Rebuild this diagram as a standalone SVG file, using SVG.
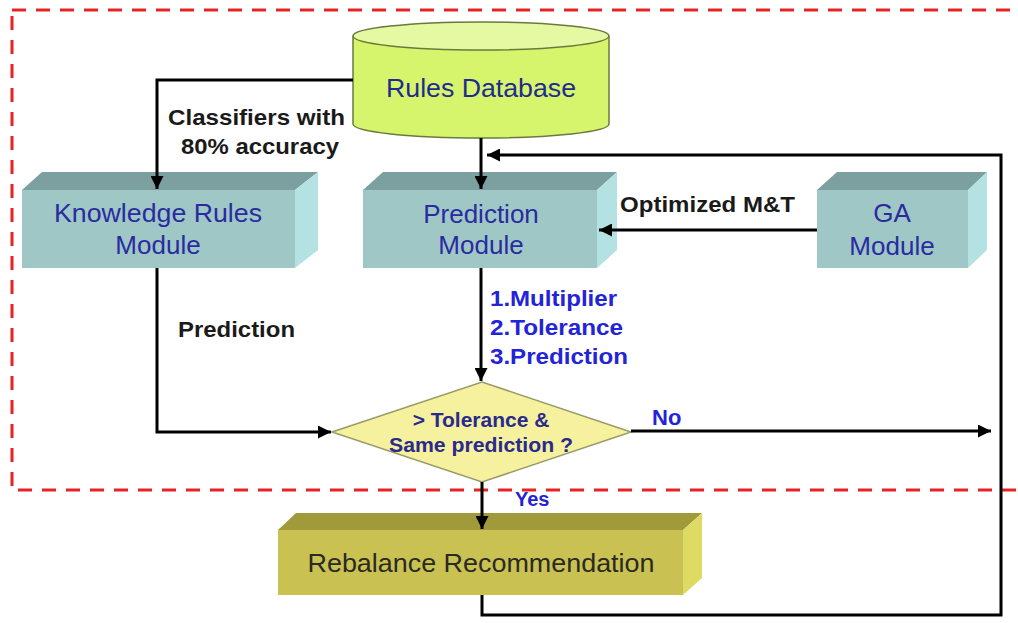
<svg xmlns="http://www.w3.org/2000/svg" width="1018" height="623" viewBox="0 0 1018 623">
<defs>
<marker id="ah" viewBox="0 0 12 12" refX="12" refY="6" markerWidth="13" markerHeight="13" orient="auto" markerUnits="userSpaceOnUse"><path d="M0,0 L12,6 L0,12 z" fill="#000"/></marker>
<style>
.front{fill:#9ec7c6;}
.top{fill:#7c9f9f;}
.side{fill:#b4e2e2;}
.yfront{fill:#c9c152;}
.ytop{fill:#a09a3a;}
.yside{fill:#dedb62;}
.box{font-family:"Liberation Sans",Arial,sans-serif;font-size:26px;fill:#2b2ba0;text-anchor:middle;}
.lbl{font-family:"Liberation Sans",Arial,sans-serif;font-size:22px;font-weight:bold;fill:#1a1a1a;}
.blue{font-family:"Liberation Sans",Arial,sans-serif;font-size:22px;font-weight:bold;fill:#2323d8;}
.dia{font-family:"Liberation Sans",Arial,sans-serif;font-size:21px;font-weight:bold;fill:#2a2a8c;text-anchor:middle;}
.conn{fill:none;stroke:#000;stroke-width:3;}
</style>
</defs>
<rect x="0" y="0" width="1018" height="623" fill="#fff"/>
<rect id="frame" x="12" y="10" width="1030" height="480" fill="none" stroke="#e82222" stroke-width="3" stroke-dasharray="14 10"/>

<g id="rules-db">
<path d="M353,36 V124 A128,14 0 0 0 609,124 V36" fill="#d6f56c" stroke="#6b7a3c" stroke-width="1.5"/>
<ellipse cx="481" cy="36" rx="128" ry="14" fill="#e4f9a2" stroke="#6b7a3c" stroke-width="1.5"/>
<text x="481" y="97" class="box" style="fill:#1f2b8e" textLength="190" lengthAdjust="spacingAndGlyphs">Rules Database</text>
</g>

<g id="knowledge">
<polygon class="top" points="22,190 42,172 318,172 295,190"/>
<polygon class="side" points="295,190 318,172 318,250 295,268"/>
<rect class="front" x="22" y="190" width="273" height="78"/>
<text x="158" y="222" class="box" textLength="208" lengthAdjust="spacingAndGlyphs">Knowledge Rules</text>
<text x="158" y="254" class="box">Module</text>
</g>

<g id="prediction">
<polygon class="top" points="363,190 383,172 617,172 597,190"/>
<polygon class="side" points="597,190 617,172 617,250 597,268"/>
<rect class="front" x="363" y="190" width="234" height="78"/>
<text x="481" y="223" class="box">Prediction</text>
<text x="481" y="254" class="box">Module</text>
</g>

<g id="ga">
<polygon class="top" points="817,190 837,172 987,172 968,190"/>
<polygon class="side" points="968,190 987,172 987,250 968,268"/>
<rect class="front" x="817" y="190" width="151" height="78"/>
<text x="892" y="222" class="box">GA</text>
<text x="892" y="255" class="box">Module</text>
</g>

<g id="decision">
<polygon points="332,432 482,382 631,432 482,482" fill="#f6f19e" stroke="#9a9a66" stroke-width="1.5"/>
<text x="481" y="427" class="dia">&gt; Tolerance &amp;</text>
<text x="481" y="452" class="dia" textLength="184" lengthAdjust="spacingAndGlyphs">Same prediction ?</text>
</g>

<g id="rebalance">
<polygon class="ytop" points="278,530 296,513 702,513 683,530"/>
<polygon class="yside" points="683,530 702,513 702,578 683,595"/>
<rect class="yfront" x="278" y="530" width="405" height="65"/>
<text x="481" y="572" class="box" style="fill:#2a2a22" textLength="347" lengthAdjust="spacingAndGlyphs">Rebalance Recommendation</text>
</g>

<g id="connectors">
<path class="conn" d="M353,80 H157 V189" marker-end="url(#ah)"/>
<path class="conn" d="M481,138 V189" marker-end="url(#ah)"/>
<path class="conn" d="M482,595 V615 H1001 V155 H487" marker-end="url(#ah)"/>
<path class="conn" d="M817,230 H599" marker-end="url(#ah)"/>
<path class="conn" d="M157,268 V432 H331" marker-end="url(#ah)"/>
<path class="conn" d="M481,268 V381" marker-end="url(#ah)"/>
<path class="conn" d="M631,431 H991" marker-end="url(#ah)"/>
<path class="conn" d="M482,482 V529" marker-end="url(#ah)"/>
</g>

<g id="labels">
<text x="168" y="125" class="lbl" textLength="177" lengthAdjust="spacingAndGlyphs">Classifiers with</text>
<text x="181" y="154" class="lbl" textLength="158" lengthAdjust="spacingAndGlyphs">80% accuracy</text>
<text x="178" y="337" class="lbl" textLength="117" lengthAdjust="spacingAndGlyphs">Prediction</text>
<text x="620" y="212" class="lbl" textLength="175" lengthAdjust="spacingAndGlyphs">Optimized M&amp;T</text>
<text x="490" y="306" class="blue" textLength="127" lengthAdjust="spacingAndGlyphs">1.Multiplier</text>
<text x="490" y="335" class="blue" textLength="133" lengthAdjust="spacingAndGlyphs">2.Tolerance</text>
<text x="490" y="364" class="blue" textLength="138" lengthAdjust="spacingAndGlyphs">3.Prediction</text>
<text x="652" y="425" class="blue">No</text>
<text x="515" y="506" class="blue" style="font-size:20px">Yes</text>
</g>
</svg>
